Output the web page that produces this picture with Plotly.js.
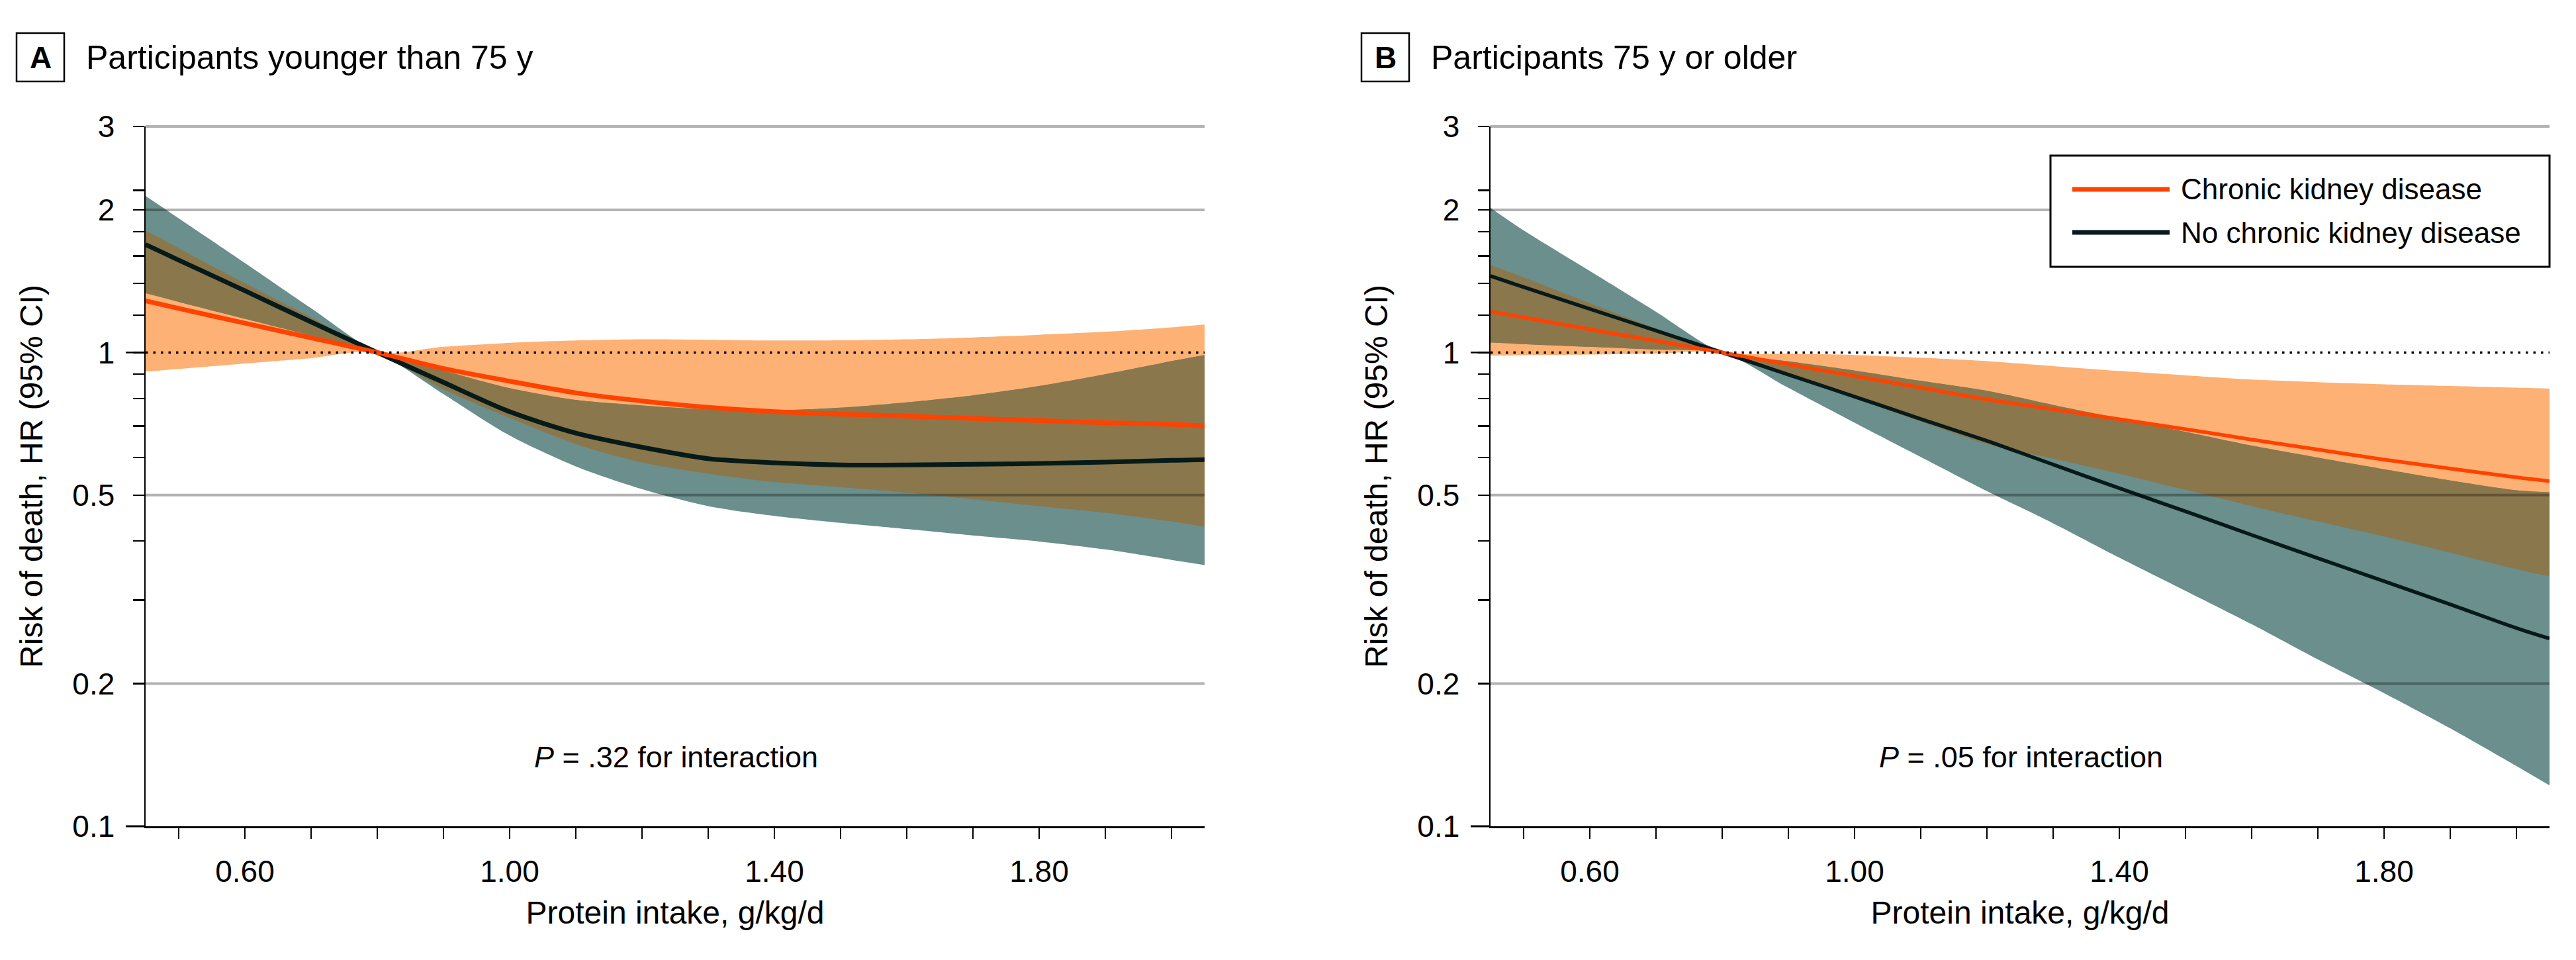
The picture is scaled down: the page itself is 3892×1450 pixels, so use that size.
<!DOCTYPE html>
<html><head><meta charset="utf-8">
<script src="https://cdn.plot.ly/plotly-3.0.1.min.js"></script>
<style>html,body{margin:0;padding:0;background:#fff;}#chart{width:3892px;height:1450px;}</style>
</head><body><div id="chart"></div>
<script>
// ---------------- DATA ----------------
const xIntake = [0.45,0.5,0.6,0.7,0.8,0.9,1.0,1.1,1.2,1.3,1.4,1.5,1.6,1.7,1.8,1.9,2.0,2.05];

// Panel A: participants younger than 75 y
const aCkdHR = [1.285,1.239,1.153,1.074,1,0.925,0.87,0.822,0.79,0.766,0.75,0.741,0.734,0.726,0.718,0.711,0.705,0.70];
const aCkdHi = [1.81,1.66,1.40,1.186,1,1.028,1.048,1.06,1.066,1.064,1.06,1.061,1.066,1.076,1.09,1.106,1.13,1.145];
const aCkdLo = [0.912,0.923,0.948,0.973,1,0.836,0.728,0.641,0.586,0.555,0.533,0.52,0.506,0.49,0.474,0.459,0.44,0.429];
const aNoHR  = [1.69,1.567,1.35,1.16,1,0.865,0.75,0.676,0.631,0.597,0.585,0.579,0.579,0.581,0.583,0.587,0.592,0.594];
const aNoHi  = [2.14,1.92,1.545,1.24,1,0.916,0.841,0.794,0.773,0.758,0.755,0.765,0.785,0.812,0.85,0.9,0.959,0.988];
const aNoLo  = [1.334,1.279,1.178,1.086,1,0.817,0.668,0.575,0.515,0.474,0.452,0.437,0.424,0.411,0.399,0.384,0.365,0.356];

// Panel B: participants 75 y or older
const bCkdHR = [1.22,1.186,1.119,1.058,1,0.944,0.892,0.843,0.796,0.759,0.723,0.689,0.655,0.624,0.594,0.569,0.545,0.535];
const bCkdHi = [1.53,1.44,1.27,1.125,1,0.995,0.988,0.975,0.959,0.936,0.914,0.895,0.877,0.866,0.857,0.85,0.843,0.839];
const bCkdLo = [0.985,0.987,0.99,0.995,1,0.895,0.8,0.715,0.641,0.597,0.555,0.513,0.474,0.44,0.409,0.378,0.349,0.337];
const bNoHR  = [1.45,1.374,1.236,1.112,1,0.898,0.807,0.724,0.651,0.58,0.517,0.462,0.412,0.368,0.329,0.294,0.262,0.249];
const bNoHi  = [2.02,1.81,1.486,1.219,1,0.958,0.916,0.871,0.83,0.775,0.726,0.68,0.636,0.6,0.567,0.537,0.512,0.507];
const bNoLo  = [1.05,1.042,1.028,1.014,1,0.842,0.711,0.602,0.51,0.436,0.369,0.314,0.267,0.225,0.191,0.161,0.134,0.122];

const xTickVals = [0.5,0.6,0.7,0.8,0.9,1.0,1.1,1.2,1.3,1.4,1.5,1.6,1.7,1.8,1.9,2.0];
const xTickText = ['','0.60','','','','1.00','','','','1.40','','','','1.80','',''];
const yTickVals = [0.1,0.2,0.3,0.4,0.5,0.6,0.7,0.8,0.9,1,1.2,1.4,1.6,1.8,2,2.2,3];
const yTickText = ['0.1','0.2','','','0.5','','','','','1','','','','','2','','3'];
const yGridVals = [0.2,0.5,2,3];

const seriesNames = ['Chronic kidney disease','No chronic kidney disease'];
const panelLetters = ['A','B'];
const panelTitles = ['Participants younger than 75 y','Participants 75 y or older'];
const pTexts = ['<i>P</i> = .32 for interaction','<i>P</i> = .05 for interaction'];
const xTitle = 'Protein intake, g/kg/d';
const yTitle = 'Risk of death, HR (95% CI)';

// ---------------- STYLE / LAYOUT ----------------
const W = 3892, H = 1450;
const FONT = 'Liberation Sans, Arial, sans-serif';
const C_ORANGE_BAND = '#fdb174', C_TEAL_BAND = '#6a8f8c', C_OVERLAP = '#8b774c';
const C_ORANGE = '#ff4200', C_BLACK = '#071a1a';
const SMOOTH = 0.8;
const yDom = [1 - 1248/H, 1 - 191/H];
const xDomA = [220/W, 1820/W], xDomB = [2252/W, 3852/W];
const yLogRange = [-1, Math.log10(3)];
const yPaper = v => yDom[0] + (Math.log10(v) - yLogRange[0]) / (yLogRange[1] - yLogRange[0]) * (yDom[1] - yDom[0]);

function band(x, hi, lo, color, xa, ya) {
  return [
    {x: x, y: lo, type: 'scatter', mode: 'lines', line: {width: 0, shape: 'spline', smoothing: SMOOTH},
     hoverinfo: 'skip', showlegend: false, xaxis: xa, yaxis: ya},
    {x: x, y: hi, type: 'scatter', mode: 'lines', fill: 'tonexty', fillcolor: color,
     line: {width: 0, shape: 'spline', smoothing: SMOOTH}, hoverinfo: 'skip', showlegend: false, xaxis: xa, yaxis: ya}
  ];
}
function overlap(x, hi1, lo1, hi2, lo2, xa, ya) {
  const lo = lo1.map((v, i) => Math.max(v, lo2[i]));
  const hi = hi1.map((v, i) => Math.max(Math.min(v, hi2[i]), lo[i]));
  return band(x, hi, lo, C_OVERLAP, xa, ya);
}
function curve(x, y, color, w, name, xa, ya) {
  return {x: x, y: y, type: 'scatter', mode: 'lines', line: {color: color, width: w, shape: 'spline', smoothing: SMOOTH},
    name: name, showlegend: false, xaxis: xa, yaxis: ya};
}

const traces = [].concat(
  band(xIntake, aCkdHi, aCkdLo, C_ORANGE_BAND, 'x', 'y'),
  band(xIntake, aNoHi, aNoLo, C_TEAL_BAND, 'x', 'y'),
  overlap(xIntake, aCkdHi, aCkdLo, aNoHi, aNoLo, 'x', 'y'),
  [curve(xIntake, aNoHR, C_BLACK, 7, seriesNames[1], 'x', 'y'),
   curve(xIntake, aCkdHR, C_ORANGE, 7, seriesNames[0], 'x', 'y')],
  band(xIntake, bCkdHi, bCkdLo, C_ORANGE_BAND, 'x2', 'y2'),
  band(xIntake, bNoHi, bNoLo, C_TEAL_BAND, 'x2', 'y2'),
  overlap(xIntake, bCkdHi, bCkdLo, bNoHi, bNoLo, 'x2', 'y2'),
  [curve(xIntake, bNoHR, C_BLACK, 5.5, seriesNames[1], 'x2', 'y2'),
   curve(xIntake, bCkdHR, C_ORANGE, 5.5, seriesNames[0], 'x2', 'y2')]
);

function xAxis(dom, anchor) {
  return {domain: dom, anchor: anchor, range: [0.45, 2.05], type: 'linear',
    showgrid: false, zeroline: false, showline: true, linecolor: '#000', linewidth: 3,
    ticks: 'outside', ticklen: 16, tickwidth: 2.5, tickcolor: '#000',
    tickmode: 'array', tickvals: xTickVals, ticktext: xTickText, ticklabelstandoff: 10,
    tickfont: {family: FONT, size: 46, color: '#000'},
    title: {text: xTitle, font: {family: FONT, size: 48, color: '#000'}, standoff: 21},
    fixedrange: true};
}
function yAxis(dom, anchor) {
  return {domain: dom, anchor: anchor, type: 'log', range: yLogRange,
    showgrid: false, zeroline: false, showline: true, linecolor: '#000', linewidth: 2.5,
    ticks: 'outside', ticklen: 17, tickwidth: 2.5, tickcolor: '#000',
    tickmode: 'array', tickvals: yTickVals, ticktext: yTickText, ticklabelstandoff: 18,
    tickfont: {family: FONT, size: 46, color: '#000'},
    title: {text: yTitle, font: {family: FONT, size: 48, color: '#000'}, standoff: 30},
    fixedrange: true};
}

const shapes = [];
const annotations = [];
const boxLeft = [25, 2057];
[[xDomA, 0], [xDomB, 1]].forEach(([xd, i]) => {
  const x0 = xd[0], x1 = xd[1];
  yGridVals.forEach(v => shapes.push({type: 'line', xref: 'paper', yref: 'paper', layer: 'above',
    x0: x0, x1: x1, y0: yPaper(v), y1: yPaper(v), line: {color: 'rgba(0,0,0,0.3)', width: 4}}));
  shapes.push({type: 'line', xref: 'paper', yref: 'paper', layer: 'above',
    x0: x0, x1: x1, y0: yPaper(1), y1: yPaper(1), line: {color: '#000', width: 3.5, dash: '3.5px,8px'}});
  [1, 0.1].forEach(v => shapes.push({type: 'line', xref: 'paper', yref: 'paper', layer: 'above',
    x0: x0 - 30/W, x1: x0, y0: yPaper(v), y1: yPaper(v), line: {color: '#000', width: v === 0.1 ? 3 : 2.5}}));
  const bx = boxLeft[i];
  shapes.push({type: 'rect', xref: 'paper', yref: 'paper', x0: bx/W, x1: (bx+72)/W,
    y0: 1 - 123/H, y1: 1 - 50/H, line: {color: '#000', width: 2.5}, fillcolor: 'rgba(0,0,0,0)'});
  annotations.push({xref: 'paper', yref: 'paper', x: (bx+36)/W, y: 1 - 87/H, xanchor: 'center', yanchor: 'middle',
    text: '<b>' + panelLetters[i] + '</b>', showarrow: false, font: {family: FONT, size: 46, color: '#000'}});
  annotations.push({xref: 'paper', yref: 'paper', x: (bx+103)/W, y: 1 - 87/H, xanchor: 'left', yanchor: 'middle',
    text: panelTitles[i], showarrow: false, font: {family: FONT, size: 50, color: '#000'}});
  annotations.push({xref: 'paper', yref: 'paper', x: x0 + 801/W, y: 1 - 1143/H, xanchor: 'center', yanchor: 'middle',
    text: pTexts[i], showarrow: false, font: {family: FONT, size: 45, color: '#000'}});
});

shapes.push({type: 'rect', xref: 'paper', yref: 'paper', x0: 3098/W, x1: 3852/W, y0: 1 - 403/H, y1: 1 - 235/H,
  line: {color: '#000', width: 3}, fillcolor: '#fff', layer: 'above'});
[[C_ORANGE, 286, 0], [C_BLACK, 351, 1]].forEach(([c, py, k]) => {
  shapes.push({type: 'line', xref: 'paper', yref: 'paper', layer: 'above', x0: 3131/W, x1: 3278/W,
    y0: 1 - py/H, y1: 1 - py/H, line: {color: c, width: 7}});
  annotations.push({xref: 'paper', yref: 'paper', x: 3293/W, y: 1 - py/H, xanchor: 'left', yanchor: 'middle',
    text: seriesNames[k], showarrow: false, font: {family: FONT, size: 44, color: '#000'}});
});

const layout = {
  width: W, height: H, margin: {l: 0, r: 0, t: 0, b: 0},
  paper_bgcolor: '#fff', plot_bgcolor: '#fff', showlegend: false,
  font: {family: FONT, color: '#000'},
  xaxis: xAxis(xDomA, 'y'), yaxis: yAxis(yDom, 'x'),
  xaxis2: xAxis(xDomB, 'y2'), yaxis2: yAxis(yDom, 'x2'),
  shapes: shapes, annotations: annotations
};
Plotly.newPlot('chart', traces, layout, {staticPlot: true, displayModeBar: false});
</script></body></html>
